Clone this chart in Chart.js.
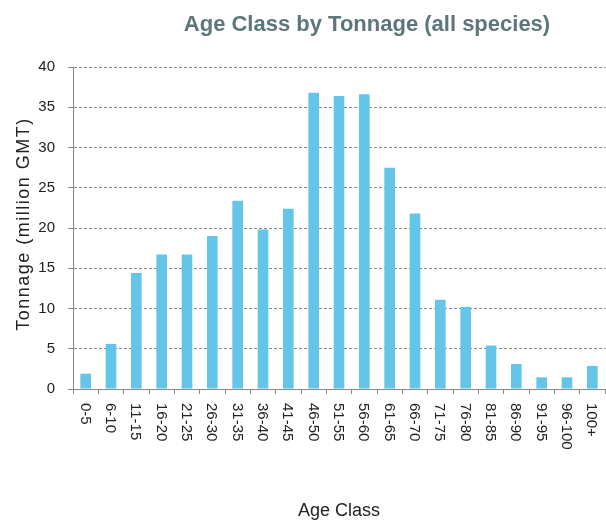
<!DOCTYPE html>
<html>
<head>
<meta charset="utf-8">
<script src="https://cdn.jsdelivr.net/npm/chart.js@4"></script>
<style>
  body { margin: 0; background: #fff; }
  #wrap { position: relative; width: 606px; height: 522px; }
  #title { position: absolute; top: 11px; left: 173px; width: 388px; text-align: center; line-height: 22px;
           font: bold 22px "Liberation Sans", Arial, sans-serif; color: #5d767c; }
</style>
</head>
<body>
<div id="wrap">
  <div id="title">Age Class by Tonnage (all species)</div>
  <canvas id="ageChart" width="606" height="522"></canvas>
</div>
<script>
const ageClasses = ["0-5", "6-10", "11-15", "16-20", "21-25", "26-30", "31-35", "36-40", "41-45", "46-50",
  "51-55", "56-60", "61-65", "66-70", "71-75", "76-80", "81-85", "86-90", "91-95", "96-100", "100+"];
const tonnage = [1.9, 5.6, 14.4, 16.7, 16.7, 19.0, 23.4, 19.8, 22.4, 36.8,
  36.4, 36.6, 27.5, 21.8, 11.1, 10.2, 5.4, 3.1, 1.45, 1.45, 2.86];
const yTicks = [0, 5, 10, 15, 20, 25, 30, 35, 40];
const yTitle = "Tonnage (million GMT)";

const font = "'Liberation Sans', Arial, sans-serif";

// x labels read top-to-bottom (clockwise), and the y title is spaced out, so draw them here
const axisText = {
  id: 'axisText',
  afterDraw(chart) {
    const { ctx, chartArea } = chart;
    const x = chart.scales.x;
    ctx.save();
    ctx.fillStyle = '#222';
    ctx.font = "15px " + font;
    ctx.textAlign = 'left';
    ctx.textBaseline = 'middle';
    ageClasses.forEach((label, i) => {
      ctx.save();
      ctx.translate(x.getPixelForTick(i) - 1, chartArea.bottom + 14);
      ctx.rotate(Math.PI / 2);
      ctx.fillText(label, 0, 0);
      ctx.restore();
    });
    ctx.font = "18px " + font;
    ctx.letterSpacing = '1.5px';
    ctx.textAlign = 'center';
    ctx.translate(24, (chartArea.top + chartArea.bottom) / 2 - 4);
    ctx.rotate(-Math.PI / 2);
    ctx.fillText(yTitle, 0, 0);
    ctx.restore();
  }
};

new Chart(document.getElementById("ageChart"), {
  type: 'bar',
  data: {
    labels: ageClasses,
    datasets: [{
      label: 'Tonnage',
      data: tonnage,
      backgroundColor: '#63c6e9',
      categoryPercentage: 1,
      barPercentage: 0.42
    }]
  },
  options: {
    responsive: false,
    animation: false,
    layout: { padding: { top: 67, right: 1, left: 0, bottom: 0 } },
    plugins: {
      legend: { display: false },
      tooltip: { enabled: false }
    },
    scales: {
      x: {
        afterFit: s => { s.height = 133; },
        grid: { drawOnChartArea: false, drawTicks: true, tickLength: 5, color: '#888' },
        border: { color: '#888' },
        ticks: { display: false },
        title: { display: true, text: 'Age Class', color: '#222', font: { family: font, size: 18 }, padding: { top: 4, bottom: 0 } }
      },
      y: {
        min: 0,
        max: 40,
        afterFit: s => { s.width = 73; },
        afterBuildTicks: s => { s.ticks = yTicks.map(v => ({ value: v })); },
        grid: { color: '#888', tickLength: 5 },
        border: { color: '#888', dash: [3, 2] },
        ticks: { padding: 13, color: '#222', font: { family: font, size: 15 } }
      }
    }
  },
  plugins: [axisText]
});
</script>
</body>
</html>
